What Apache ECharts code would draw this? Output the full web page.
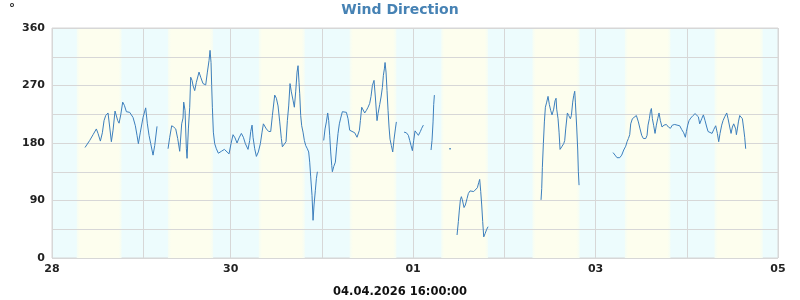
<!DOCTYPE html>
<html>
<head>
<meta charset="utf-8">
<script src="https://cdn.jsdelivr.net/npm/echarts@6/dist/echarts.min.js"></script>
<style>html,body{margin:0;padding:0;background:#fff}#c{width:800px;height:300px}</style>
</head>
<body>
<div id="c"></div>
<script>
// Hours since 28.03 00:00 local time (axis is real time; 29.03 has 23 h due to DST)
const dayTicks = [0, 24, 47, 71, 95, 119, 143, 167, 191];
const labelTicks = [0, 47, 95, 143, 191];
const labelTexts = ['28', '30', '01', '03', '05'];
const yTicks = [0, 90, 180, 270, 360];
// daylight periods (yellow background)
const sunrise = [6.5, 30.5, 54.4, 78.3, 102.4, 126.4, 150.7, 174.3];
const sunset  = [18.3, 42.4, 66.5, 90.6, 114.7, 138.8, 162.7, 187.0];

// wind direction readings; null marks a gap in the record
const hours = [
 8.69, 9.92, 10.80, 11.67, 12.11, 12.73, 13.25, 13.69, 14.13, 14.74, 15.18, 15.62, 16.06, 16.58, 16.93, 17.29, 17.64, 18.08, 18.60, 19.04, 19.57, 20.44, 21.32, 21.93, 22.37, 22.72, 23.25, 23.95, 24.65, 25.09, 25.53, 25.97, 26.58, 27.02, 27.63,
 null,
 30.53, 30.97, 31.49, 32.02, 32.55, 33.07, 33.60, 34.12, 34.47, 34.65, 35.00, 35.35, 35.53, 35.88, 36.23,
 36.49, 36.84, 37.10, 37.54, 37.98, 38.68, 39.12, 39.73, 40.44, 40.88, 41.31, 41.58, 41.84, 42.01, 42.19, 42.45, 42.80, 43.24, 43.77, 44.56, 45.35, 46.05, 46.58, 47.10, 47.63, 48.15, 48.68, 49.21, 49.82, 50.35, 50.87, 51.57, 52.01, 52.28, 52.63, 52.89, 53.33, 53.77, 54.29, 54.82, 55.26, 55.61, 56.40, 57.01, 57.54, 57.98, 58.59, 59.03, 59.47, 59.91, 60.34, 60.61, 61.05, 61.57, 61.92, 62.27, 62.62, 62.97, 63.41, 63.76, 64.11, 64.47, 64.73, 64.99, 65.17,
 65.43, 65.69, 66.04, 66.39, 66.75, 67.18, 67.53, 67.80, 68.06, 68.41, 68.68, 68.94, 69.29, 69.55, 69.82,
 null,
 71.48, 71.83, 72.18, 72.53, 72.80, 73.06, 73.32, 73.59, 73.76, 74.11, 74.55, 74.90, 75.25, 75.60, 75.95, 76.39, 76.74, 77.45, 77.88, 78.32, 78.76, 79.64, 80.25, 80.60, 80.87, 81.13, 81.48, 81.83, 82.27, 82.71, 83.15, 83.58, 83.93, 84.29, 84.72, 85.07, 85.51, 85.78, 86.21, 86.57, 86.92, 87.18, 87.44, 87.62, 87.88, 88.14, 88.41, 88.67, 88.93, 89.28, 89.64, 89.99, 90.34, 90.60,
 null,
 92.62, 93.23, 93.76, 94.11, 94.46, 94.81, 95.16, 95.51, 95.86, 96.39, 96.91, 97.26, 97.70,
 null,
 99.72, 99.98, 100.25, 100.42, 100.60,
 null,
 104.72,
 null,
 106.56, 106.91, 107.17, 107.44, 107.70, 107.96, 108.40, 108.75, 109.19, 109.54, 109.98, 110.42, 110.95, 111.47, 111.91, 112.26, 112.52, 112.79, 113.05, 113.31, 113.58, 113.93, 114.37, 114.72,
 null,
 128.66, 128.84, 129.01, 129.27, 129.54, 129.80, 130.15, 130.50, 130.85, 131.20, 131.55, 131.99, 132.34, 132.61, 132.78, 133.13, 133.40, 133.66, 134.10, 134.62, 134.89, 135.15, 135.59, 135.94, 136.38, 136.64, 136.99, 137.25, 137.52, 137.69, 138.04, 138.31, 138.48, 138.66,
 null,
 147.60, 148.13, 148.65, 149.36, 149.88, 150.41, 150.94, 151.29, 151.64, 151.99,
 152.25, 152.69, 153.21, 153.74, 154.27, 154.71, 155.14, 155.58, 156.20, 156.55, 156.81, 157.16, 157.42, 157.69, 157.95, 158.30, 158.65, 159.00, 159.35, 159.70, 160.05, 160.49, 161.02, 161.63, 162.16, 162.69, 163.21, 163.83, 164.44, 165.14, 165.67, 166.19, 166.63, 166.90, 167.25, 167.60, 168.04, 168.65, 169.18, 169.70, 170.05, 170.40, 170.93, 171.37, 171.81, 172.25, 172.60, 173.12, 173.65, 174.09, 174.61, 175.05, 175.40, 175.75, 176.19, 176.54, 176.98, 177.51, 177.86, 178.30, 178.65, 179.00, 179.35, 179.61, 179.88, 180.05, 180.31, 180.58, 180.93, 181.45, 181.63, 181.98, 182.24, 182.50
];
const deg = [
 173, 184, 193, 202, 195, 183, 196, 215, 223, 227, 205, 182, 200, 230, 227, 215, 211, 224, 244, 239, 229, 228, 220, 207, 192, 179, 197, 220, 235, 210, 192, 179, 161, 176, 206,
 null,
 171, 189, 207, 205, 202, 187, 167, 210, 219, 244, 231, 171, 156, 202, 236,
 283, 278, 270, 262, 275, 291, 283, 273, 271, 291, 309, 325, 306, 270, 236, 197, 179, 171, 164, 167, 170, 166, 163, 179, 193, 188, 180, 188, 195, 189, 179, 170, 184, 198, 208, 189, 171, 159, 166, 179, 197, 210, 202, 198, 198, 223, 255, 250, 238, 213, 187, 174, 177, 182, 215, 238, 273, 260, 247, 236, 260, 291, 301, 275, 257,
 223, 207, 197, 184, 176, 171, 166, 150, 127, 98, 59, 83, 106, 124, 135,
 null,
 184, 202, 213, 227, 215, 192, 166, 145, 135, 143, 150, 174, 195, 210, 219, 229, 231, 228, 218, 200, 197, 196, 189, 186, 200, 215, 236, 233, 227, 231, 236, 242, 253, 270, 278, 252, 215, 226, 240, 252, 267, 286, 296, 306, 291, 262, 231, 205, 186, 176, 166, 186, 202, 213,
 null,
 197, 196, 192, 184, 176, 168, 184, 199, 198, 192, 198, 203, 208,
 null,
 169, 184, 213, 240, 255,
 null,
 171,
 null,
 36, 57, 75, 91, 96, 91, 79, 83, 93, 101, 105, 106, 104, 101, 110, 118, 123, 104, 83, 57, 33, 38, 45, 49,
 null,
 91, 109, 142, 179, 213, 236, 244, 253, 240, 231, 224, 233, 246, 250, 233, 218, 197, 170, 174, 179, 184, 202, 227, 223, 218, 223, 244, 254, 261, 244, 205, 169, 135, 114,
 null,
 165, 161, 157, 157, 161, 169, 175, 182, 187, 193,
 210, 218, 221, 223, 213, 202, 192, 187, 187, 192, 208, 218, 229, 234, 218, 207, 195, 208, 218, 227, 215, 205, 208, 209, 205, 203, 208, 209, 208, 207, 201, 196, 189, 198, 208, 215, 219, 223, 226, 228, 221, 210, 218, 224, 215, 205, 198, 196, 195, 201, 207, 195, 182, 195, 208, 215, 221, 227, 218, 205, 195, 205, 210, 213, 202, 193, 202, 213, 223, 223, 218, 202, 189, 171
];

const LINE = '#3c7fbd';
const NIGHT = '#edfcfd';
const DAY = '#fdfeee';
const GRID = '#d7d7d7';
const FONT = 'DejaVu Sans';

// split into continuous segments
const segments = [];
let cur = [];
for (let i = 0; i < hours.length; i++) {
  if (hours[i] === null || deg[i] === null) {
    if (cur.length) segments.push(cur);
    cur = [];
  } else {
    cur.push([hours[i], deg[i]]);
  }
}
if (cur.length) segments.push(cur);

const dayAreas = sunrise.map((s, i) => [{ xAxis: s }, { xAxis: sunset[i] }]);

const series = segments.map((seg, k) => ({
  type: 'line',
  data: seg,
  z: 3,
  silent: true,
  animation: false,
  showSymbol: seg.length === 1,
  symbol: 'rect',
  symbolSize: [1.5, 1.5],
  itemStyle: { color: LINE },
  lineStyle: { color: LINE, width: 1 },
  markArea: k === 0 ? {
    silent: true,
    z: 1,
    itemStyle: {
      color: {
        type: 'linear', x: 0, y: 0, x2: 1, y2: 0,
        colorStops: [
          { offset: 0, color: '#f5fdf5' },
          { offset: 0.07, color: DAY },
          { offset: 0.93, color: DAY },
          { offset: 1, color: '#f5fdf5' }
        ]
      }
    },
    data: dayAreas
  } : undefined
}));

const chart = echarts.init(document.getElementById('c'), null, { renderer: 'canvas' });
chart.setOption({
  animation: false,
  backgroundColor: '#ffffff',
  title: {
    text: 'Wind Direction',
    left: 'center',
    top: 3,
    padding: 0,
    textStyle: { fontFamily: FONT, fontSize: 14, fontWeight: 'bold', color: '#4682b4' }
  },
  graphic: [
    { type: 'text', left: 9, top: 3, style: { text: '°', font: 'bold 12px "DejaVu Sans"', fill: '#222' } },
    { type: 'text', left: 'center', top: 286, style: { text: '04.04.2026 16:00:00', font: 'bold 11.5px "DejaVu Sans"', fill: '#111' } }
  ],
  grid: {
    left: 52, right: 22, top: 28, bottom: 42,
    show: true, backgroundColor: NIGHT, borderColor: GRID, borderWidth: 1
  },
  xAxis: {
    type: 'value', min: 0, max: 191, z: 2,
    axisLine: { show: false },
    axisTick: { show: false, customValues: dayTicks },
    axisLabel: {
      customValues: labelTicks,
      formatter: v => labelTexts[labelTicks.indexOf(v)] ?? '',
      fontFamily: FONT, fontSize: 11, fontWeight: 'bold', color: '#222', margin: 6
    },
    splitLine: { show: true, lineStyle: { color: GRID, width: 1 } }
  },
  yAxis: {
    type: 'value', min: 0, max: 360, interval: 45, z: 2,
    axisLine: { show: false },
    axisTick: { show: false },
    axisLabel: {
      formatter: v => (yTicks.indexOf(v) >= 0 ? String(v) : ''),
      fontFamily: FONT, fontSize: 11, fontWeight: 'bold', color: '#222', margin: 7
    },
    splitLine: { show: true, lineStyle: { color: GRID, width: 1 } }
  },
  series: series
});
</script>
</body>
</html>
